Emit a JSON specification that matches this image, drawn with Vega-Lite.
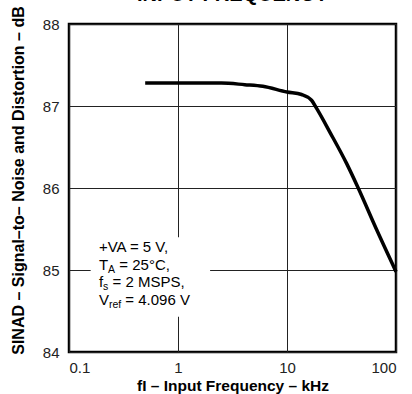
{
  "$schema": "https://vega.github.io/schema/vega-lite/v6.json",
  "width": 327,
  "height": 328,
  "autosize": {"type": "none"},
  "padding": {"left": 69, "top": 24, "right": 16, "bottom": 42},
  "background": "white",
  "title": {
    "text": "INPUT FREQUENCY",
    "font": "Liberation Sans",
    "fontSize": 20,
    "fontWeight": "bold",
    "color": "black",
    "baseline": "alphabetic",
    "frame": "group",
    "offset": 0,
    "dy": 15
  },
  "config": {
    "view": {"stroke": "black", "strokeWidth": 2.5},
    "font": "Liberation Sans",
    "axis": {
      "grid": true,
      "gridColor": "#222222",
      "gridWidth": 1,
      "gridOpacity": 1,
      "domain": false,
      "ticks": false,
      "labelFont": "Liberation Sans",
      "labelFontSize": 15,
      "labelColor": "#222222",
      "titleFont": "Liberation Sans",
      "titleFontWeight": "bold",
      "titleColor": "black"
    }
  },
  "datasets": {
    "curve": [
      {"f": 0.5, "sinad": 87.28},
      {"f": 1, "sinad": 87.28},
      {"f": 2.5, "sinad": 87.28},
      {"f": 4.1, "sinad": 87.26},
      {"f": 6, "sinad": 87.24},
      {"f": 10, "sinad": 87.17},
      {"f": 13.6, "sinad": 87.14},
      {"f": 16.8, "sinad": 87.07},
      {"f": 18.7, "sinad": 86.97},
      {"f": 25, "sinad": 86.67},
      {"f": 35.2, "sinad": 86.3},
      {"f": 45, "sinad": 86.0},
      {"f": 66.5, "sinad": 85.49},
      {"f": 100, "sinad": 84.98}
    ]
  },
  "layer": [
    {
      "data": {"name": "curve"},
      "mark": {"type": "line", "color": "black", "strokeWidth": 3.5, "interpolate": "monotone"},
      "encoding": {
        "x": {
          "field": "f", "type": "quantitative",
          "scale": {"type": "log", "domain": [0.1, 100]},
          "axis": {
            "values": [0.1, 1, 10, 100],
            "format": "~g",
            "labelPadding": 8,
            "title": "fI – Input Frequency – kHz",
            "titleFontSize": 15.5,
            "titlePadding": 3
          }
        },
        "y": {
          "field": "sinad", "type": "quantitative",
          "scale": {"domain": [84, 88]},
          "axis": {
            "values": [84, 85, 86, 87, 88],
            "format": "d",
            "labelPadding": 10,
            "title": "SINAD – Signal–to– Noise and Distortion – dB",
            "titleFontSize": 16,
            "titleY": 156,
            "titlePadding": 16
          }
        }
      }
    },
    {
      "data": {"values": [{"x1": 0.158, "x2": 1.97, "y1": 84.43, "y2": 85.4}]},
      "mark": {"type": "rect", "color": "white"},
      "encoding": {
        "x": {"field": "x1", "type": "quantitative"},
        "x2": {"field": "x2"},
        "y": {"field": "y1", "type": "quantitative"},
        "y2": {"field": "y2"}
      }
    },
    {
      "data": {"values": [
        {"x": 0.188, "y": 85.22, "t": "+VA = 5 V,"},
        {"x": 0.188, "y": 85.0, "t": "T"},
        {"x": 0.188, "y": 84.79, "t": "f"},
        {"x": 0.188, "y": 84.57, "t": "V"}
      ]},
      "mark": {"type": "text", "align": "left", "baseline": "alphabetic", "fontSize": 15, "color": "black"},
      "encoding": {
        "x": {"field": "x", "type": "quantitative"},
        "y": {"field": "y", "type": "quantitative"},
        "text": {"field": "t"}
      }
    },
    {
      "data": {"values": [{"x": 0.188, "y": 85.0, "t": "A"}]},
      "mark": {"type": "text", "align": "left", "baseline": "alphabetic", "fontSize": 10.5, "dx": 9.2, "dy": 3, "color": "black"},
      "encoding": {
        "x": {"field": "x", "type": "quantitative"},
        "y": {"field": "y", "type": "quantitative"},
        "text": {"field": "t"}
      }
    },
    {
      "data": {"values": [{"x": 0.188, "y": 85.0, "t": "= 25°C,"}]},
      "mark": {"type": "text", "align": "left", "baseline": "alphabetic", "fontSize": 15, "dx": 20.4, "color": "black"},
      "encoding": {
        "x": {"field": "x", "type": "quantitative"},
        "y": {"field": "y", "type": "quantitative"},
        "text": {"field": "t"}
      }
    },
    {
      "data": {"values": [{"x": 0.188, "y": 84.79, "t": "s"}]},
      "mark": {"type": "text", "align": "left", "baseline": "alphabetic", "fontSize": 10.5, "dx": 4.2, "dy": 3, "color": "black"},
      "encoding": {
        "x": {"field": "x", "type": "quantitative"},
        "y": {"field": "y", "type": "quantitative"},
        "text": {"field": "t"}
      }
    },
    {
      "data": {"values": [{"x": 0.188, "y": 84.79, "t": "= 2 MSPS,"}]},
      "mark": {"type": "text", "align": "left", "baseline": "alphabetic", "fontSize": 15, "dx": 13.6, "color": "black"},
      "encoding": {
        "x": {"field": "x", "type": "quantitative"},
        "y": {"field": "y", "type": "quantitative"},
        "text": {"field": "t"}
      }
    },
    {
      "data": {"values": [{"x": 0.188, "y": 84.57, "t": "ref"}]},
      "mark": {"type": "text", "align": "left", "baseline": "alphabetic", "fontSize": 10.5, "dx": 10, "dy": 3, "color": "black"},
      "encoding": {
        "x": {"field": "x", "type": "quantitative"},
        "y": {"field": "y", "type": "quantitative"},
        "text": {"field": "t"}
      }
    },
    {
      "data": {"values": [{"x": 0.188, "y": 84.57, "t": "= 4.096 V"}]},
      "mark": {"type": "text", "align": "left", "baseline": "alphabetic", "fontSize": 15, "dx": 26.4, "color": "black"},
      "encoding": {
        "x": {"field": "x", "type": "quantitative"},
        "y": {"field": "y", "type": "quantitative"},
        "text": {"field": "t"}
      }
    }
  ]
}
